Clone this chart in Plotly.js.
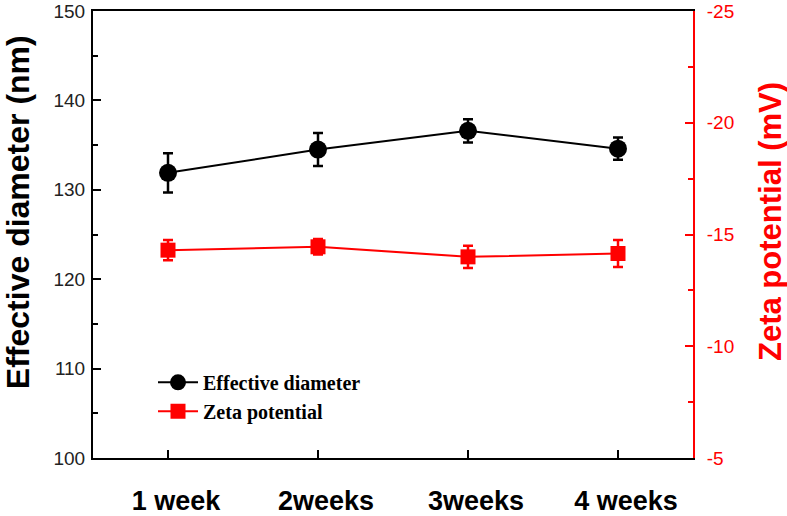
<!DOCTYPE html>
<html>
<head>
<meta charset="utf-8">
<script src="https://cdn.plot.ly/plotly-3.0.1.min.js"></script>
<style>html,body{margin:0;padding:0;background:#fff;}#chart{width:787px;height:516px;}</style>
</head>
<body>
<div id="chart"></div>
<script>
const categories = ["1 week", "2weeks", "3weeks", "4 weeks"];
const diameter = [131.9, 134.5, 136.6, 134.6];
const diameterErr = [2.2, 1.85, 1.3, 1.25];
const zeta = [-14.3, -14.45, -14.0, -14.15];
const zetaErr = [0.45, 0.35, 0.5, 0.6];
const zetaTickVals = [-5, -10, -15, -20, -25];
const zetaTickText = ["-5", "-10", "-15", "-20", "-25"];
const leftTitle = "Effective diameter (nm)";
const rightTitle = "Zeta potential (mV)";

const traces = [
  {
    x: categories, y: diameter, name: "Effective diameter",
    type: "scatter", mode: "lines+markers",
    line: {color: "#000", width: 2},
    marker: {symbol: "circle", size: 18, color: "#000"},
    error_y: {type: "data", array: diameterErr, visible: true, color: "#000", thickness: 2.5, width: 5},
    yaxis: "y"
  },
  {
    x: categories, y: zeta, name: "Zeta potential",
    type: "scatter", mode: "lines+markers",
    line: {color: "#ff0000", width: 2},
    marker: {symbol: "square", size: 15, color: "#ff0000"},
    error_y: {type: "data", array: zetaErr, visible: true, color: "#ff0000", thickness: 2.5, width: 5},
    yaxis: "y2"
  }
];

const layout = {
  width: 787, height: 516,
  margin: {l: 93, r: 94, t: 11, b: 58},
  paper_bgcolor: "#fff", plot_bgcolor: "#fff",
  showlegend: true,
  legend: {
    x: 0.1, y: 0.213, xanchor: "left", yanchor: "top",
    itemwidth: 40,
    font: {family: "Liberation Serif", size: 20, color: "#000", weight: "bold"},
    bgcolor: "rgba(0,0,0,0)"
  },
  xaxis: {
    type: "category", range: [-0.5, 3.5],
    showline: true, linecolor: "#000", linewidth: 2, mirror: true,
    ticks: "inside", ticklen: 8, tickwidth: 2, tickcolor: "#000",
    ticklabelstandoff: 18, ticklabelshift: 8,
    tickfont: {family: "Liberation Sans", size: 27, color: "#000", weight: "bold"},
    showgrid: false, zeroline: false
  },
  yaxis: {
    range: [100, 150], dtick: 10,
    showline: true, linecolor: "#000", linewidth: 2,
    ticks: "inside", ticklen: 8, tickwidth: 2, tickcolor: "#000",
    minor: {dtick: 5, ticks: "inside", ticklen: 5, tickwidth: 2, tickcolor: "#000"},
    ticklabelstandoff: 2,
    tickfont: {family: "Liberation Sans", size: 19, color: "#222"},
    showgrid: false, zeroline: false
  },
  yaxis2: {
    overlaying: "y", side: "right",
    range: [-5, -25],
    tickmode: "array", tickvals: zetaTickVals, ticktext: zetaTickText,
    showline: true, linecolor: "#ff0000", linewidth: 2,
    ticks: "inside", ticklen: 8, tickwidth: 2, tickcolor: "#ff0000",
    minor: {dtick: 2.5, tick0: 0, ticks: "inside", ticklen: 5, tickwidth: 2, tickcolor: "#ff0000"},
    ticklabelstandoff: 8,
    tickfont: {family: "Liberation Sans", size: 19, color: "#ff0000"},
    showgrid: false, zeroline: false
  },
  annotations: [
    {text: leftTitle, xref: "paper", yref: "paper", x: 0, y: 0.55, xshift: -75,
     xanchor: "center", yanchor: "middle", textangle: -90, showarrow: false,
     font: {family: "Liberation Sans", size: 32, color: "#000", weight: "bold"}},
    {text: rightTitle, xref: "paper", yref: "paper", x: 1, y: 0.528, xshift: 78,
     xanchor: "center", yanchor: "middle", textangle: -90, showarrow: false,
     font: {family: "Liberation Sans", size: 31, color: "#ff0000", weight: "bold"}}
  ]
};

Plotly.newPlot("chart", traces, layout, {displayModeBar: false, staticPlot: true});
</script>
</body>
</html>
